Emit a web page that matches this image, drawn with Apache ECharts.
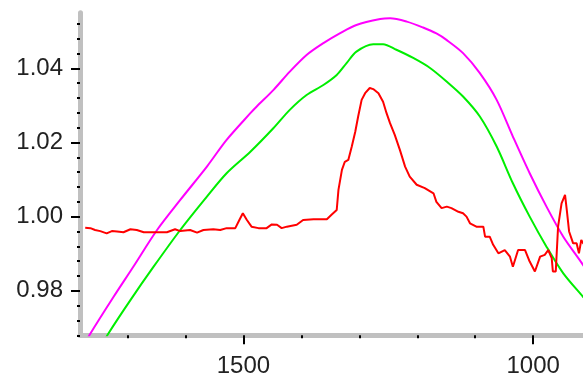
<!DOCTYPE html>
<html>
<head>
<meta charset="utf-8">
<script src="https://cdn.jsdelivr.net/npm/echarts@6/dist/echarts.min.js"></script>
<style>
  html, body { margin: 0; padding: 0; background: #fff; }
  #chart { width: 583px; height: 390px; }
</style>
</head>
<body>
<div id="chart"></div>
<script>
// tick values
var xMajorTicks = [1500, 1000];
var xMinorTicks = [1700, 1600, 1400, 1300, 1200, 1100];
var yMajorTicks = [0.98, 1.00, 1.02, 1.04];
var yMinorTicks = [0.968, 0.972, 0.976, 0.984, 0.988, 0.992, 0.996, 1.004, 1.008, 1.012, 1.016,
  1.024, 1.028, 1.032, 1.036, 1.044, 1.048, 1.052];

// spectra: [wavenumber, value]
var magenta = [
  [1773, 0.9659], [1764, 0.9685], [1724, 0.9784], [1690, 0.9865], [1649, 0.9964],
  [1609, 1.0045], [1563, 1.0135], [1529, 1.0207], [1488, 1.0279], [1477, 1.0297],
  [1448, 1.0342], [1420, 1.0391], [1391, 1.0436], [1362, 1.0468], [1333, 1.0495],
  [1305, 1.0517], [1264, 1.0533], [1247, 1.0535], [1218, 1.0526], [1190, 1.0510],
  [1167, 1.0494], [1149, 1.0476], [1121, 1.0441], [1092, 1.0387], [1063, 1.0315],
  [1035, 1.0216], [1006, 1.0117], [977, 1.0027], [948, 0.9946], [914, 0.9870],
  [902, 0.9837]
];
var green = [
  [1742, 0.9659], [1733, 0.9685], [1695, 0.9775], [1655, 0.9865], [1609, 0.9964],
  [1563, 1.0054], [1529, 1.0117], [1488, 1.0175], [1448, 1.0239], [1420, 1.0288],
  [1391, 1.0328], [1362, 1.0355], [1339, 1.0382], [1322, 1.0414], [1305, 1.0445],
  [1276, 1.0465], [1259, 1.0465], [1236, 1.0450], [1207, 1.0428], [1178, 1.0401],
  [1149, 1.0364], [1121, 1.0324], [1092, 1.0270], [1063, 1.0189], [1035, 1.0090],
  [1006, 1.0000], [977, 0.9919], [948, 0.9847], [914, 0.9784], [902, 0.9762]
];
var red = [
  [1773, 0.9970], [1764, 0.9969], [1756, 0.9964], [1747, 0.9961], [1736, 0.9955],
  [1727, 0.9961], [1718, 0.9960], [1707, 0.9958], [1695, 0.9966], [1684, 0.9964],
  [1672, 0.9958], [1649, 0.9958], [1632, 0.9958], [1618, 0.9966], [1609, 0.9961],
  [1592, 0.9964], [1580, 0.9957], [1569, 0.9964], [1552, 0.9966], [1540, 0.9964],
  [1529, 0.9969], [1514, 0.9969], [1507, 0.9991], [1501, 1.0009], [1494, 0.9991],
  [1486, 0.9973], [1474, 0.9969], [1460, 0.9969], [1451, 0.9979], [1442, 0.9978],
  [1434, 0.9969], [1425, 0.9973], [1408, 0.9978], [1397, 0.9991], [1379, 0.9993],
  [1356, 0.9993], [1348, 1.0005], [1339, 1.0018], [1336, 1.0072], [1330, 1.0126],
  [1325, 1.0148], [1319, 1.0153], [1313, 1.0189], [1307, 1.0229], [1302, 1.0270],
  [1296, 1.0315], [1290, 1.0333], [1282, 1.0347], [1276, 1.0344], [1267, 1.0333],
  [1259, 1.0310], [1253, 1.0279], [1247, 1.0252], [1239, 1.0221], [1230, 1.0180],
  [1221, 1.0135], [1213, 1.0108], [1201, 1.0086], [1187, 1.0077], [1172, 1.0063],
  [1167, 1.0040], [1158, 1.0023], [1149, 1.0027], [1141, 1.0023], [1129, 1.0013],
  [1121, 1.0009], [1115, 1.0000], [1109, 0.9982], [1098, 0.9973], [1086, 0.9973],
  [1083, 0.9946], [1075, 0.9946], [1069, 0.9924], [1060, 0.9901], [1049, 0.9910],
  [1040, 0.9892], [1035, 0.9865], [1026, 0.9910], [1014, 0.9910], [1006, 0.9879],
  [997, 0.9852], [988, 0.9892], [980, 0.9897], [974, 0.9910], [968, 0.9888],
  [966, 0.9852], [961, 0.9852], [957, 0.9973], [951, 1.0036], [945, 1.0059],
  [942, 1.0018], [938, 0.9960], [931, 0.9928], [925, 0.9928], [921, 0.9901],
  [917, 0.9937], [914, 0.9929], [902, 0.9910]
];

var axisGray = '#c0c0c0';
var labelStyle = {
  fontFamily: 'Liberation Sans',
  fontSize: 24,
  color: '#222'
};

function line(data, color, smooth) {
  return {
    type: 'line',
    data: data,
    symbol: 'none',
    smooth: smooth,
    clip: true,
    lineStyle: { color: color, width: 2 }
  };
}

document.addEventListener("DOMContentLoaded", () => {
  echarts.init(document.querySelector("#chart")).setOption({
    animation: false,
    backgroundColor: '#fff',
    grid: {
      left: 80,
      right: 0,
      top: 12.7,
      bottom: 54.7,
      outerBoundsMode: 'none'
    },
    xAxis: [{
        type: 'value',
        position: 'bottom',
        inverse: true,
        min: 914,
        max: 1782,
        axisLine: { lineStyle: { color: axisGray, width: 5 } },
        axisTick: { customValues: xMajorTicks, length: 9, lineStyle: { color: '#000', width: 2 } },
        axisLabel: Object.assign({
          customValues: xMajorTicks,
          margin: 19,
          formatter: function (v) { return String(v); }
        }, labelStyle),
        splitLine: { show: false }
      },
      {
        type: 'value',
        position: 'bottom',
        offset: 0,
        inverse: true,
        min: 914,
        max: 1782,
        z: 1,
        axisLine: { show: false },
        axisTick: { customValues: xMinorTicks, length: 3, lineStyle: { color: '#000', width: 2 } },
        axisLabel: { show: false },
        splitLine: { show: false }
      }
    ],
    yAxis: [{
        type: 'value',
        position: 'left',
        min: 0.968,
        max: 1.055,
        axisLine: { show: true, lineStyle: { color: axisGray, width: 5 } },
        axisTick: { show: true, customValues: yMajorTicks, length: 9, lineStyle: { color: '#000', width: 2 } },
        axisLabel: Object.assign({
          customValues: yMajorTicks,
          margin: 17,
          formatter: function (v) { return v.toFixed(2); }
        }, labelStyle),
        splitLine: { show: false }
      },
      {
        type: 'value',
        position: 'left',
        offset: 0,
        min: 0.968,
        max: 1.055,
        z: 1,
        axisLine: { show: false },
        axisTick: { show: true, customValues: yMinorTicks, length: 3, lineStyle: { color: '#000', width: 2 } },
        axisLabel: { show: false },
        splitLine: { show: false }
      }
    ],
    series: [
      line(magenta, '#ff00ff', 0.3),
      line(green, '#00ee00', 0.3),
      line(red, '#ff0000', false)
    ]
  });
});
</script>
</body>
</html>
